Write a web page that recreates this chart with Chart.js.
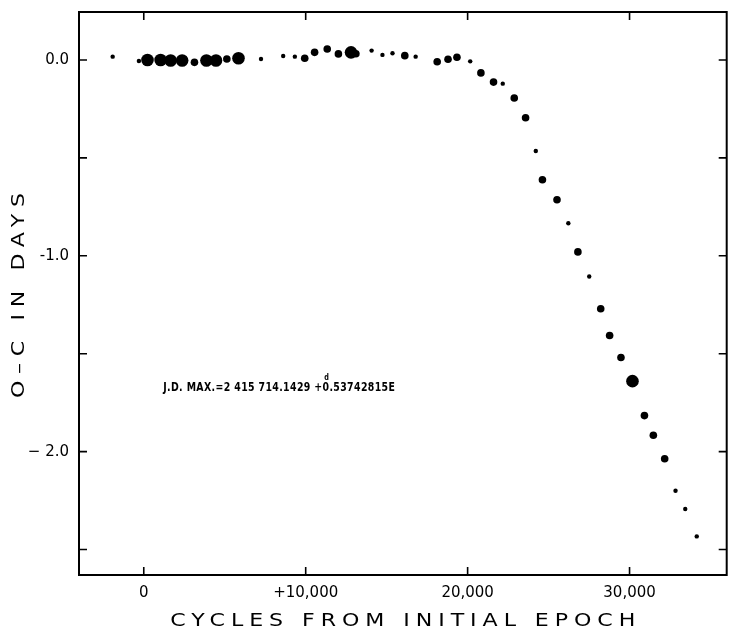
<!DOCTYPE html>
<html>
<head>
<meta charset="utf-8">
<script src="https://cdn.jsdelivr.net/npm/chart.js@4.4.1/dist/chart.umd.min.js"></script>
<style>
  html, body { margin: 0; padding: 0; background: #fff; }
  #wrap { width: 733px; height: 635px; }
</style>
</head>
<body>
<div id="wrap"><canvas id="ocChart" width="733" height="635"></canvas></div>
<script>
// O-C values
const cycles = [-1920, -300, 230, 1040, 1660, 2370, 3130, 3870, 4460, 5130,
  5850, 7240, 8610, 9330, 9940, 10550, 11330, 12020, 12800, 13100,
  14070, 14740, 15360, 16120, 16790, 18120, 18790, 19340, 20160, 20820,
  21600, 22170, 22880, 23580, 24210, 24620, 25520, 26220, 26810, 27510,
  28220, 28770, 29470, 30180, 30920, 31470, 32170, 32840, 33440, 34150];
const ocDays = [0.017, -0.005, 0, 0, -0.003, -0.003, -0.012, -0.003, -0.003, 0.005,
  0.009, 0.005, 0.02, 0.017, 0.009, 0.039, 0.056, 0.031, 0.039, 0.032,
  0.048, 0.026, 0.034, 0.022, 0.017, -0.009, 0.004, 0.014, -0.007, -0.066,
  -0.113, -0.121, -0.194, -0.295, -0.465, -0.612, -0.714, -0.834, -0.98, -1.106,
  -1.27, -1.407, -1.519, -1.64, -1.816, -1.916, -2.036, -2.2, -2.293, -2.433];
// weight class of each normal point (1 small, 2 medium, 3 large)
const weights = [1, 1, 3, 3, 3, 3, 2, 3, 3, 2,
  3, 1, 1, 1, 2, 2, 2, 2, 3, 2,
  1, 1, 1, 2, 1, 2, 2, 2, 1, 2,
  2, 1, 2, 2, 1, 2, 2, 1, 2, 1,
  2, 2, 2, 3, 2, 2, 2, 1, 1, 1];

const xTicks = [0, 10000, 20000, 30000];
const xTickLabels = ['0', '+10,000', '20,000', '30,000'];
const yTicks = [-2.5, -2.0, -1.5, -1.0, -0.5, 0.0];
const yTickLabels = ['', '\u2212 2.0', '', '-1.0', '', '0.0'];

const radiusFor = { 1: 2.2, 2: 3.8, 3: 6.3 };
const FONT = '"DejaVu Sans", sans-serif';

const points = cycles.map((c, i) => ({ x: c, y: ocDays[i] }));

// wide lettering: stretch glyphs, then spread to the given width
function spacedText(ctx, text, cx, cy, width, stretch) {
  ctx.save();
  ctx.translate(cx, cy);
  ctx.scale(stretch, 1);
  ctx.letterSpacing = '0px';
  const w = ctx.measureText(text).width;
  const gap = (width / stretch - w) / (text.length - 1);
  ctx.letterSpacing = gap + 'px';
  ctx.fillText(text, gap / 2, 0);
  ctx.restore();
}

// frame, inward ticks, axis titles and the ephemeris note
const framePlugin = {
  id: 'frame',
  afterDraw(chart) {
    const { ctx, chartArea: a, scales: { x, y } } = chart;
    ctx.save();
    ctx.strokeStyle = '#000';
    ctx.lineWidth = 2;
    ctx.strokeRect(a.left, a.top, a.right - a.left, a.bottom - a.top);

    const tl = 8;
    ctx.lineWidth = 1.6;
    ctx.beginPath();
    xTicks.forEach(v => {
      const px = x.getPixelForValue(v);
      ctx.moveTo(px, a.bottom); ctx.lineTo(px, a.bottom - tl);
      ctx.moveTo(px, a.top); ctx.lineTo(px, a.top + tl);
    });
    yTicks.forEach(v => {
      const py = y.getPixelForValue(v);
      ctx.moveTo(a.left, py); ctx.lineTo(a.left + tl, py);
      ctx.moveTo(a.right, py); ctx.lineTo(a.right - tl, py);
    });
    ctx.stroke();

    ctx.fillStyle = '#000';
    ctx.textAlign = 'center';
    ctx.textBaseline = 'middle';
    // x title
    ctx.font = '17px ' + FONT;
    spacedText(ctx, 'CYCLES FROM INITIAL EPOCH', (a.left + a.right) / 2, 622, 465, 1.3);
    // y title
    ctx.save();
    ctx.translate(20, (a.top + a.bottom) / 2 + 2);
    ctx.rotate(-Math.PI / 2);
    ctx.font = '17px ' + FONT;
    spacedText(ctx, 'O\u2013C IN DAYS', 0, 0, 205, 1.3);
    ctx.restore();

    // ephemeris note, squeezed to the width it has in the figure
    ctx.textAlign = 'left';
    ctx.textBaseline = 'alphabetic';
    const tx = x.getPixelForValue(1200);
    const ty = y.getPixelForValue(-1.69);
    const part1 = 'J.D. MAX.=2 415 714.1429 +0';
    const part2 = '.53742815E';
    ctx.font = 'bold 13px ' + FONT;
    ctx.letterSpacing = '0.5px';
    const w1 = ctx.measureText(part1).width;
    const w2 = ctx.measureText(part2).width;
    const sx = 232 / (w1 + w2);
    ctx.translate(tx, ty);
    ctx.scale(sx, 1);
    ctx.fillText(part1, 0, 0);
    ctx.fillText(part2, w1, 0);
    ctx.font = 'bold 9px ' + FONT;
    ctx.fillText('d', w1 - 7, -11);
    ctx.restore();
  }
};

new Chart(document.getElementById('ocChart'), {
  type: 'scatter',
  data: {
    datasets: [{
      label: 'O-C',
      data: points,
      backgroundColor: '#000',
      borderColor: '#000',
      borderWidth: 0,
      pointRadius: ctx => radiusFor[weights[ctx.dataIndex]] || 2,
      pointHoverRadius: ctx => radiusFor[weights[ctx.dataIndex]] || 2
    }]
  },
  options: {
    responsive: false,
    animation: false,
    devicePixelRatio: 1,
    layout: { padding: { left: 0, right: 3, top: 12, bottom: 0 } },
    plugins: {
      legend: { display: false },
      tooltip: { enabled: false }
    },
    scales: {
      x: {
        type: 'linear',
        min: -4000,
        max: 36000,
        afterFit: s => { s.height = 60; s.paddingLeft = 0; s.paddingRight = 0; },
        afterBuildTicks: s => { s.ticks = xTicks.map(v => ({ value: v })); },
        grid: { display: false, drawTicks: false },
        border: { display: false },
        ticks: {
          padding: 9,
          color: '#000',
          font: { family: FONT, size: 15 },
          callback: v => xTickLabels[xTicks.indexOf(v)] ?? ''
        }
      },
      y: {
        type: 'linear',
        min: -2.63,
        max: 0.245,
        afterFit: s => { s.width = 79; s.paddingTop = 0; s.paddingBottom = 0; },
        afterBuildTicks: s => { s.ticks = yTicks.map(v => ({ value: v })); },
        grid: { display: false, drawTicks: false },
        border: { display: false },
        ticks: {
          padding: 10,
          color: '#000',
          font: { family: FONT, size: 15 },
          callback: v => yTickLabels[yTicks.indexOf(v)] ?? ''
        }
      }
    }
  },
  plugins: [framePlugin]
});
</script>
</body>
</html>
